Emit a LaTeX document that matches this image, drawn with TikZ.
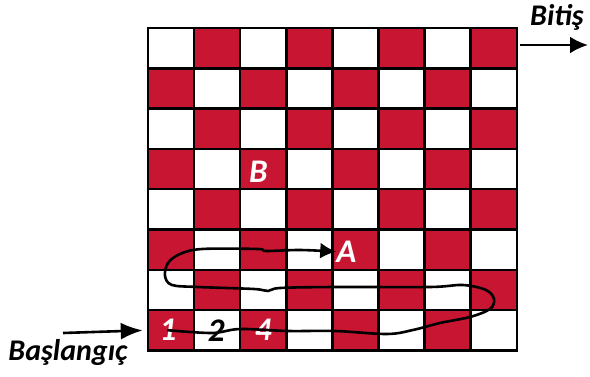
\documentclass[tikz,border=0pt]{standalone}
\usepackage{fontspec}
\setmainfont{Carlito}
\usepackage{xcolor}
\usetikzlibrary{arrows.meta,positioning}

\definecolor{sq0}{RGB}{255,255,255}
\definecolor{sq1}{RGB}{200,22,50}

\begin{document}
\begin{tikzpicture}[x=1pt,y=-1pt,
  cell/.style={draw=black, line width=2.5pt, minimum width=46.1pt, minimum height=40.3pt, inner sep=0pt},
  lbl/.style={font=\fontsize{33}{36}\selectfont\bfseries\itshape, inner sep=0pt},
  side/.style={font=\fontsize{30}{34}\selectfont\bfseries\itshape, inner sep=0pt},
  route/.style={line width=2.6pt, line cap=round, line join=round},
  pointer/.style={-{Latex[length=22pt,width=17pt]}, line width=2.6pt}]
\useasboundingbox (0,0) rectangle (590,377);

% 8x8 board, top-left square white
\def\bx{148}
\def\by{28}
\def\cw{46.1}
\def\ch{40.3}
\foreach \r in {1,...,8} {
 \foreach \c [evaluate=\c as \k using {int(mod(\r+\c,2))}] in {1,...,8} {
  \node[cell, fill=sq\k] (c-\r-\c) at ({\bx+\cw*(\c-0.5)},{\by+\ch*(\r-0.5)}) {};
 }
}

% labels on the squares
\node[lbl, text=white, xshift=-3pt] (n1) at (c-8-1) {1};
\node[lbl, text=black, xshift=-1pt] (n2) at (c-8-2) {2};
\node[lbl, text=white] (n4) at (c-8-3) {4};
\node[lbl, text=white, xshift=-5pt, yshift=-3pt] (B) at (c-4-3) {B};
\node[lbl, text=white, xshift=-9pt, yshift=-2pt] (A) at (c-6-5) {A};

% route from 1 to A
\draw[route, -{Latex[length=16pt,width=16pt]}] plot[smooth, tension=0.55] coordinates {
 (n1.center) (212,333) (240,329) (288,331) (335,331) (387,334) (413,330)
 (440,323) (470,317) (490,309) (494,299) (486,290) (463,285) (430,287)
 (335,287) (280,288) (268,291) (254,289) (198,287) (172,285) (165,276)
 (168,263) (180,254) (202,249) (258,249) (266,251) (300,250) (A.west)};

% start and finish
\coordinate (s0) at (63,333);
\draw[pointer, shorten >=4pt] (s0) -- (c-8-1.west);
\node[side, anchor=base] (start) at (68,360) {Başlangıç};

\node[side, anchor=base] (finish) at (557,26) {Bitiş};
\coordinate (f0) at (520,45);
\coordinate (f1) at (588,45);
\draw[pointer, -{Latex[length=18pt,width=17pt]}] (f0) -- (f1);
\end{tikzpicture}
\end{document}
